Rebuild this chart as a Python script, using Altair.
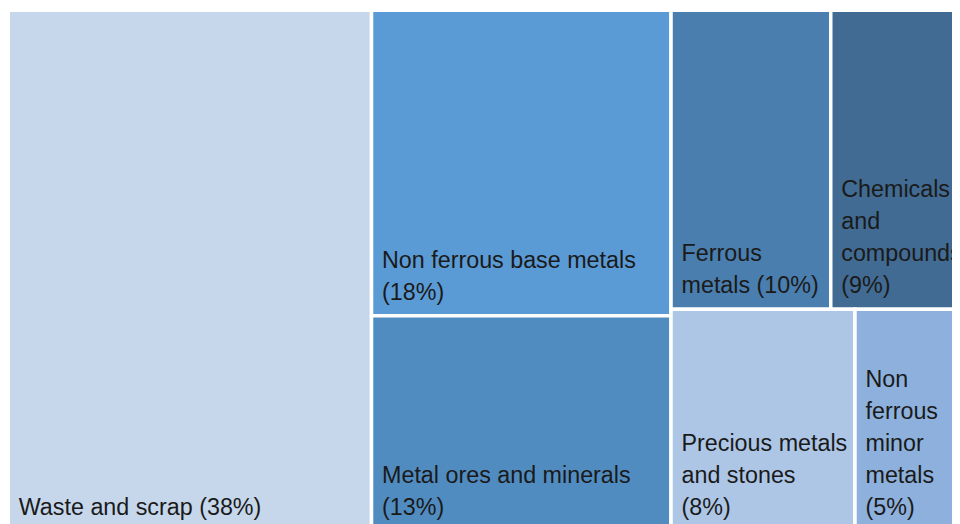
import altair as alt
import pandas as pd

# ---- data ----
names = ["Waste and scrap", "Non ferrous base metals", "Metal ores and minerals",
         "Ferrous metals", "Chemicals and compounds", "Precious metals and stones",
         "Non ferrous minor metals"]
shares = [37.6, 18.2, 12.8, 9.5, 8.6, 8.1, 5.3]
labels = ["Waste and scrap (38%)",
          "Non ferrous base metals\n(18%)",
          "Metal ores and minerals\n(13%)",
          "Ferrous\nmetals (10%)",
          "Chemicals\nand\ncompounds\n(9%)",
          "Precious metals\nand stones\n(8%)",
          "Non\nferrous\nminor\nmetals\n(5%)"]
# treemap grouping: column of the layout, and row within that column
columns = [0, 1, 1, 2, 2, 2, 2]
rows = [0, 0, 1, 0, 0, 1, 1]
colors = ["#c6d7ec", "#5b9bd5", "#518cc1", "#4a7eae", "#416b93", "#adc6e6", "#8db1dc"]

# ---- view: the picture shows a crop of the full treemap ----
W, H = 944, 516
frame_left, frame_w = 0.25, 967.1   # pixels relative to plot area
frame_top, frame_h = 2.25, 520.5
LINE_H = 32

# ---- treemap layout (columns of rows) in unit coordinates ----
total = sum(shares)
recs = []
xc = 0.0
for c in sorted(set(columns)):
    idx_c = [i for i in range(len(names)) if columns[i] == c]
    csum = sum(shares[i] for i in idx_c)
    cw = csum / total
    yc = 0.0
    for r in sorted(set(rows[i] for i in idx_c)):
        idx_r = [i for i in idx_c if rows[i] == r]
        rsum = sum(shares[i] for i in idx_r)
        rh = rsum / csum
        xr = xc
        for i in idx_r:
            w = cw * shares[i] / rsum
            nl = labels[i].count("\n")
            recs.append(dict(name=names[i], label=labels[i],
                             x0=xr, x1=xr + w, y0=yc, y1=yc + rh,
                             ytext=yc + rh - nl * LINE_H / frame_h))
            xr += w
        yc += rh
    xc += cw
df = pd.DataFrame(recs)

xd0 = -frame_left / frame_w
xd1 = xd0 + W / frame_w
yd0 = -frame_top / frame_h
yd1 = yd0 + H / frame_h

xs = alt.Scale(domain=[xd0, xd1], nice=False, zero=False)
ys = alt.Scale(domain=[yd0, yd1], nice=False, zero=False, reverse=True)

rects = alt.Chart(df).mark_rect(stroke="white", strokeWidth=3.5, clip=True).encode(
    x=alt.X("x0:Q", scale=xs, axis=None),
    x2="x1",
    y=alt.Y("y0:Q", scale=ys, axis=None),
    y2="y1",
    color=alt.Color("name:N", scale=alt.Scale(domain=names, range=colors), legend=None),
)

texts = alt.Chart(df).mark_text(
    align="left", baseline="bottom", dx=10.5, dy=-11,
    font="Liberation Sans", fontSize=23.3, lineHeight=LINE_H, lineBreak="\n",
    color="#1a1a1a", clip=True,
).encode(
    x=alt.X("x0:Q", scale=xs, axis=None),
    y=alt.Y("ytext:Q", scale=ys, axis=None),
    text="label:N",
)

chart = alt.layer(rects, texts).properties(
    width=W, height=H, padding=0,
    autosize=alt.AutoSizeParams(type="none"),
    background="white",
).configure_view(stroke=None)

chart.save("out.html", embed_options={"renderer": "svg", "actions": False})
